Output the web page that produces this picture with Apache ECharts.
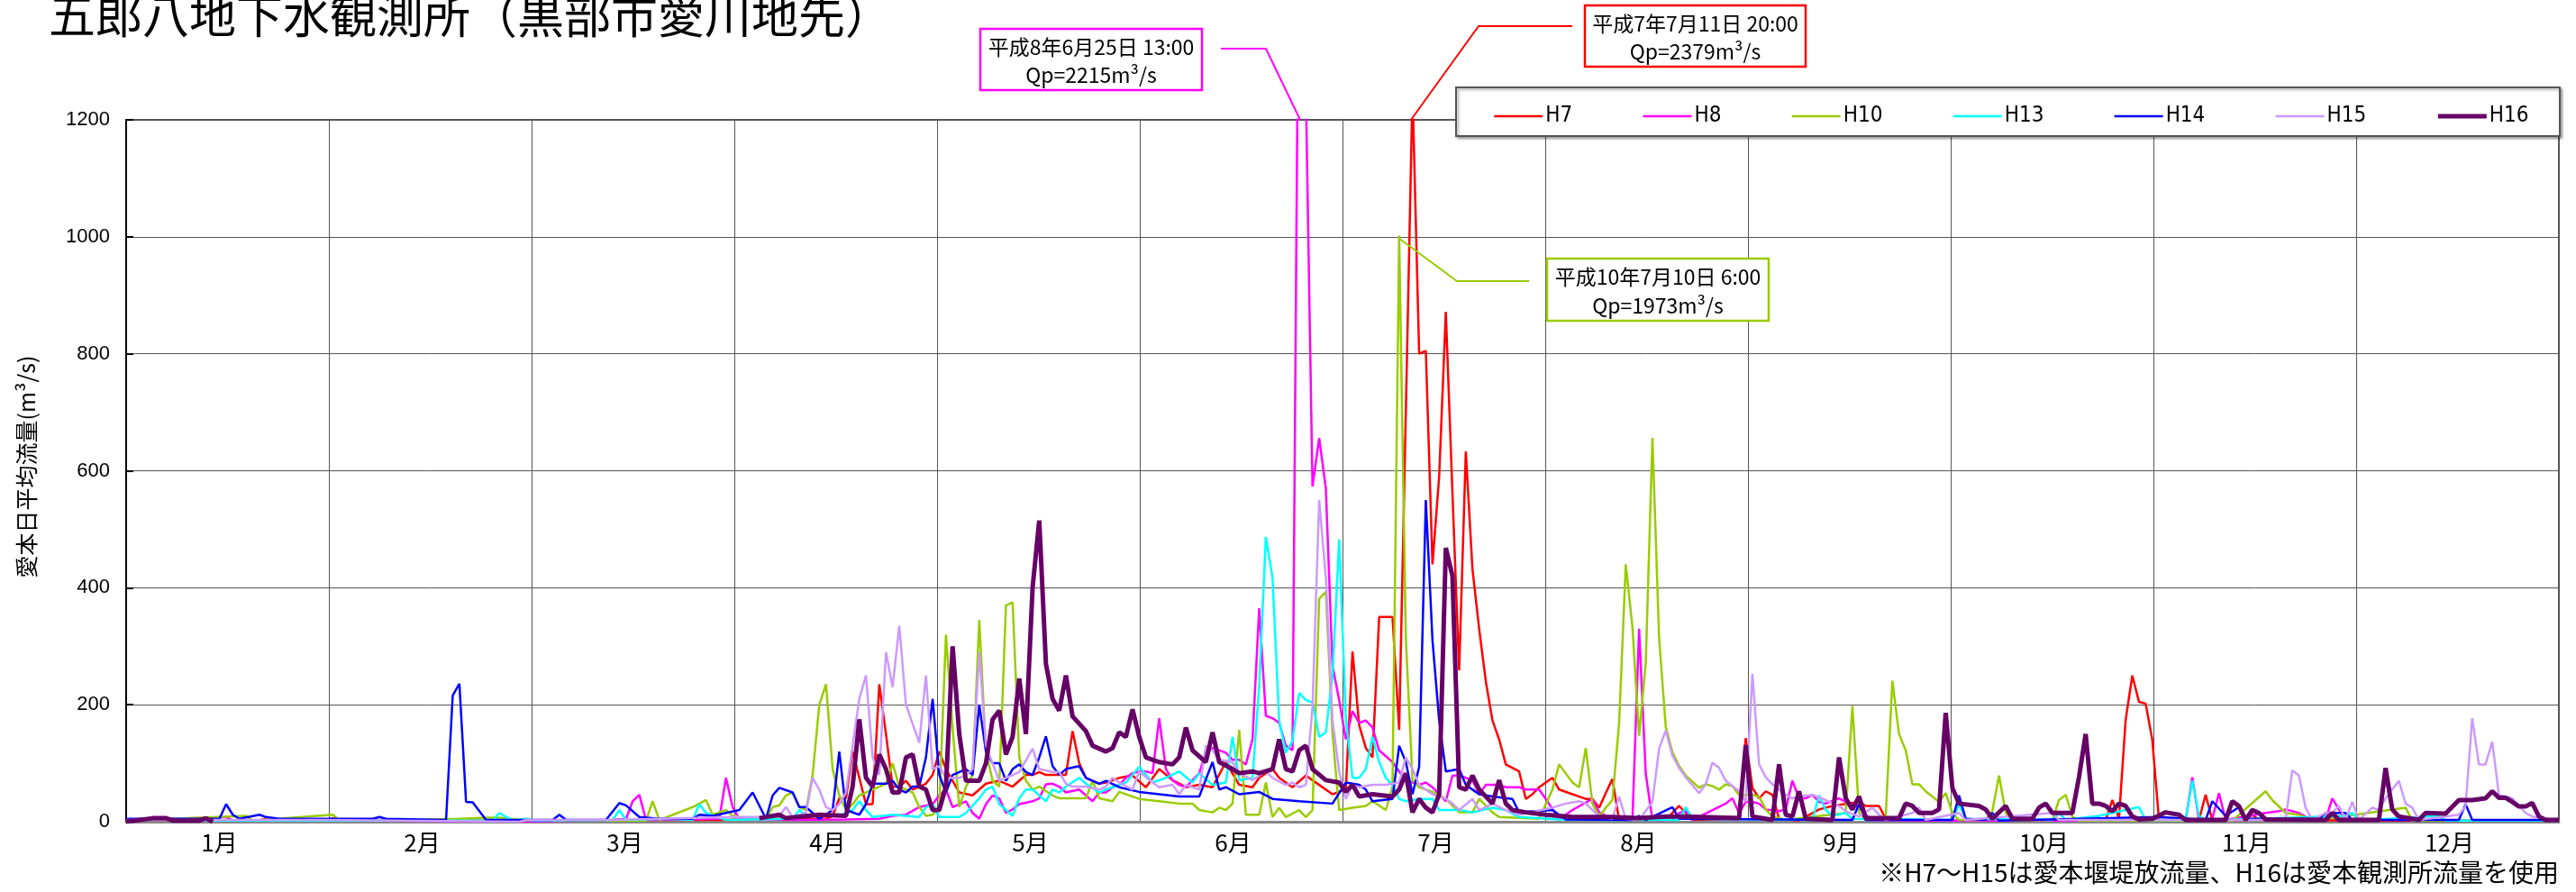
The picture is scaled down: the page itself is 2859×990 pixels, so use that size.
<!DOCTYPE html>
<html>
<head>
<meta charset="utf-8">
<script src="https://cdn.jsdelivr.net/npm/echarts@6/dist/echarts.min.js"></script>
<style>
html,body{margin:0;padding:0;background:#fff;}
#chart{width:2859px;height:990px;}
</style>
</head>
<body>
<div id="chart"></div>
<script>
const months = ['1月','2月','3月','4月','5月','6月','7月','8月','9月','10月','11月','12月'];
const yTicks = [0, 200, 400, 600, 800, 1000, 1200];
const seriesNames = ['H7','H8','H10','H13','H14','H15','H16'];

// [day of year, daily mean flow m3/s]
const H7 = [[0,3],[10,3],[20,2],[21,6],[22,2],[30,3],[31,6],[32,3],[45,2],[60,2],[75,3],[90,3],[96,5],[105,5],[106,10],[107,40],[108,40],[109,120],[110,75],[111,30],[112,30],[113,235],[114,150],[115,60],[116,60],[117,70],[118,55],[119,60],[120,65],[121,80],[122,120],[123,90],[124,70],[125,50],[127,45],[128,55],[129,65],[131,70],[133,60],[134,70],[135,80],[136,80],[137,85],[138,80],[140,80],[141,80],[142,155],[143,100],[144,75],[145,70],[146,65],[147,67],[149,75],[151,79],[153,59],[155,90],[157,71],[159,59],[161,63],[163,59],[165,102],[167,63],[169,59],[170,75],[172,90],[173,75],[175,59],[177,79],[179,63],[181,47],[183,55],[184,291],[185,165],[186,126],[187,110],[188,350],[190,350],[191,157],[192,700],[193,1250],[194,800],[195,805],[196,440],[197,590],[198,872],[199,560],[200,259],[201,633],[202,432],[203,330],[204,240],[205,173],[206,141],[207,98],[209,86],[210,39],[211,47],[212,59],[214,75],[215,55],[217,47],[219,39],[220,39],[221,24],[222,49],[223,73],[224,3],[231,3],[233,27],[234,15],[235,3],[242,5],[243,143],[244,58],[245,40],[246,52],[247,46],[248,5],[251,2],[254,21],[256,27],[260,34],[261,27],[263,27],[264,5],[270,2],[290,2],[297,3],[298,37],[299,6],[300,174],[301,250],[302,205],[303,202],[304,140],[305,3],[311,3],[312,46],[313,3],[318,3],[319,12],[320,3],[340,2],[365,2]];

const H8 = [[0,2],[15,8],[16,2],[40,2],[59,0],[73,3],[75,5],[76,35],[77,46],[78,3],[89,5],[90,75],[91,25],[92,5],[100,3],[108,4],[113,5],[115,10],[117,12],[119,25],[121,30],[122,45],[123,55],[124,25],[125,30],[126,35],[127,15],[128,5],[129,30],[130,45],[131,40],[132,15],[133,21],[134,30],[136,35],[137,40],[138,64],[139,65],[140,60],[141,50],[143,55],[144,45],[145,35],[146,50],[147,50],[148,59],[149,63],[150,75],[151,83],[152,86],[153,86],[154,83],[155,177],[156,90],[157,71],[158,63],[159,59],[161,83],[162,118],[163,126],[165,118],[166,106],[167,106],[168,98],[169,141],[170,365],[171,181],[172,177],[173,169],[174,130],[175,122],[176,1630],[177,1250],[178,573],[179,656],[180,570],[181,267],[182,208],[183,141],[184,189],[185,169],[186,173],[187,161],[188,122],[190,102],[191,86],[192,71],[194,63],[195,67],[196,59],[198,35],[199,79],[200,79],[202,71],[203,47],[204,63],[206,63],[207,59],[209,59],[210,55],[212,55],[213,39],[215,4],[217,20],[220,39],[221,16],[223,5],[226,3],[227,330],[228,82],[229,3],[232,3],[233,15],[234,18],[235,3],[240,31],[241,40],[242,15],[243,34],[244,34],[245,31],[246,21],[248,18],[249,21],[250,70],[251,40],[252,40],[253,46],[254,34],[255,31],[257,40],[258,34],[260,24],[261,12],[262,3],[270,2],[290,2],[309,2],[310,76],[311,3],[313,5],[314,49],[315,3],[321,15],[323,18],[324,21],[326,15],[328,2],[330,3],[331,40],[332,21],[333,3],[338,3],[339,76],[340,21],[341,3],[365,2]];

const H10 = [[0,2],[18,10],[19,2],[31,12],[32,2],[40,2],[50,5],[54,7],[56,7],[60,2],[73,2],[78,2],[79,35],[80,3],[85,25],[87,37],[88,12],[90,20],[91,10],[92,8],[96,5],[97,25],[98,28],[99,45],[100,50],[101,25],[102,20],[103,80],[104,200],[105,235],[106,90],[107,45],[108,20],[109,30],[110,45],[112,55],[113,60],[114,65],[115,100],[116,60],[118,50],[119,25],[120,10],[121,12],[122,25],[123,320],[124,160],[125,25],[126,60],[127,80],[128,345],[129,120],[130,70],[131,60],[132,370],[133,375],[134,110],[135,70],[136,55],[137,60],[139,45],[140,40],[142,40],[144,40],[145,70],[146,40],[148,35],[149,51],[152,39],[155,35],[158,31],[160,31],[161,20],[163,16],[164,24],[165,20],[166,31],[167,157],[168,12],[170,12],[171,67],[172,8],[173,24],[174,8],[176,20],[177,8],[178,20],[179,381],[180,393],[181,150],[182,20],[184,24],[186,27],[187,35],[189,20],[190,60],[191,1002],[192,314],[193,71],[194,59],[196,51],[198,39],[200,16],[202,16],[203,39],[205,16],[206,8],[212,5],[214,55],[215,98],[217,67],[218,59],[219,126],[220,31],[221,8],[222,24],[223,37],[224,168],[225,440],[226,333],[227,147],[228,272],[229,656],[230,315],[231,162],[232,119],[233,95],[234,79],[236,58],[237,64],[238,61],[239,55],[240,64],[241,61],[242,46],[244,46],[245,43],[246,21],[247,9],[249,3],[258,15],[259,198],[260,15],[261,3],[264,9],[265,241],[266,150],[267,122],[268,64],[269,64],[270,52],[272,34],[273,49],[274,15],[275,3],[279,3],[280,18],[281,79],[282,15],[283,2],[289,3],[290,37],[291,46],[292,9],[293,2],[316,2],[321,52],[322,37],[324,15],[326,12],[328,2],[342,24],[343,2],[365,2]];

const H13 = [[0,2],[9,5],[10,2],[20,2],[30,2],[40,2],[50,2],[55,2],[56,15],[57,8],[58,2],[60,5],[61,2],[73,3],[74,20],[75,3],[81,5],[85,3],[86,30],[87,15],[90,3],[100,5],[101,20],[102,10],[107,10],[109,20],[110,35],[111,20],[112,8],[115,12],[119,8],[120,25],[121,30],[122,8],[125,8],[126,15],[128,40],[129,55],[130,60],[131,30],[133,10],[134,40],[135,55],[136,55],[138,35],[139,55],[140,50],[141,60],[143,75],[144,65],[146,50],[147,55],[150,67],[152,94],[154,67],[156,75],[158,86],[160,67],[161,83],[163,63],[165,67],[166,145],[167,71],[169,75],[170,232],[171,487],[172,417],[173,173],[174,118],[175,138],[176,220],[177,208],[178,204],[179,145],[180,153],[181,250],[182,483],[183,177],[184,75],[185,75],[186,90],[187,145],[188,102],[189,75],[190,63],[191,39],[192,35],[194,39],[196,39],[197,20],[200,20],[202,16],[205,24],[207,20],[209,8],[215,4],[223,3],[233,3],[234,25],[235,5],[253,3],[254,45],[255,20],[256,10],[258,15],[259,5],[274,3],[275,30],[276,5],[289,3],[290,15],[291,3],[296,10],[302,25],[303,3],[309,3],[310,70],[311,10],[312,2],[333,10],[334,15],[335,2],[347,10],[348,2],[365,2]];

const H14 = [[0,5],[14,5],[15,30],[16,12],[17,5],[20,12],[21,8],[23,5],[37,5],[38,8],[39,5],[48,3],[49,216],[50,236],[51,34],[52,33],[54,3],[64,3],[65,12],[66,3],[72,3],[74,32],[75,28],[77,8],[80,5],[85,5],[86,12],[88,10],[92,20],[94,50],[96,5],[97,45],[98,58],[100,50],[101,25],[102,25],[104,5],[106,20],[107,120],[108,20],[110,12],[111,30],[112,65],[114,65],[115,70],[116,55],[117,50],[118,60],[119,60],[120,110],[121,210],[122,80],[123,50],[124,80],[126,90],[127,80],[128,200],[129,120],[130,100],[131,100],[132,70],[133,90],[134,98],[135,85],[136,80],[137,110],[138,146],[139,95],[140,80],[141,90],[143,95],[144,75],[146,65],[147,70],[149,59],[152,51],[155,47],[158,43],[161,43],[163,102],[164,55],[165,59],[167,47],[170,51],[172,39],[176,35],[181,31],[183,67],[185,63],[186,55],[187,35],[190,39],[191,130],[192,102],[193,47],[194,94],[195,550],[196,310],[197,173],[198,86],[200,90],[201,63],[203,47],[205,43],[208,39],[209,16],[214,20],[216,4],[226,3],[227,10],[228,3],[232,25],[233,5],[259,3],[260,30],[261,3],[274,3],[275,45],[276,5],[279,3],[280,15],[281,2],[305,8],[312,3],[313,35],[315,10],[317,25],[318,5],[329,5],[330,15],[333,15],[334,3],[350,3],[351,30],[352,3],[365,3]];

const H15 = [[0,3],[30,3],[59,0],[60,3],[73,3],[91,8],[95,8],[98,10],[99,25],[100,8],[102,15],[103,75],[104,55],[105,25],[106,20],[107,30],[108,50],[110,210],[111,250],[112,110],[113,80],[114,290],[115,230],[116,335],[117,200],[119,135],[120,250],[121,90],[122,95],[123,75],[125,75],[126,80],[127,90],[128,290],[129,130],[130,100],[131,70],[133,80],[134,85],[136,125],[137,90],[139,85],[140,85],[141,65],[142,60],[144,60],[146,55],[147,60],[148,75],[149,67],[151,55],[152,86],[154,67],[155,59],[157,63],[158,47],[159,63],[161,55],[162,130],[163,122],[164,106],[166,102],[167,83],[169,71],[170,79],[171,86],[172,75],[174,63],[175,67],[176,59],[177,63],[178,196],[179,550],[180,417],[181,173],[182,86],[183,39],[184,63],[185,59],[187,63],[189,63],[191,67],[192,110],[193,90],[194,63],[196,47],[198,39],[199,31],[200,20],[202,39],[203,20],[205,31],[207,20],[209,12],[214,24],[216,31],[218,35],[219,31],[221,9],[223,5],[224,43],[225,5],[227,3],[229,34],[230,125],[231,156],[232,113],[233,92],[234,76],[236,49],[237,64],[238,101],[239,92],[240,70],[242,52],[243,34],[244,253],[245,98],[246,76],[247,64],[249,46],[250,40],[251,43],[253,46],[255,37],[256,31],[257,27],[258,18],[260,9],[262,24],[263,12],[264,3],[268,15],[269,24],[270,3],[275,15],[276,3],[289,15],[290,3],[324,3],[325,88],[326,79],[327,24],[328,3],[330,15],[331,15],[332,27],[333,3],[334,34],[335,3],[337,24],[338,20],[339,40],[340,55],[341,70],[342,31],[343,24],[344,3],[350,12],[351,27],[352,177],[353,98],[354,98],[355,137],[356,46],[358,40],[360,15],[361,9],[365,2]];

const H16 = [[0,0],[4,6],[6,6],[7,2],[11,2],[12,6],[13,0],[50,'-'],[95,6],[98,12],[99,6],[104,12],[108,10],[109,60],[110,175],[111,75],[112,60],[113,115],[114,90],[115,50],[116,50],[117,110],[118,115],[119,60],[120,55],[121,20],[122,20],[123,60],[124,300],[125,150],[126,70],[128,70],[129,100],[130,175],[131,190],[132,115],[133,145],[134,245],[135,150],[136,400],[137,515],[138,270],[139,210],[140,190],[141,250],[142,180],[144,155],[145,130],[147,120],[148,126],[149,153],[150,145],[151,192],[152,145],[153,110],[155,102],[157,98],[158,110],[159,161],[160,122],[162,102],[163,153],[164,102],[166,90],[167,83],[169,86],[170,83],[172,90],[173,141],[174,90],[175,86],[176,122],[177,130],[178,90],[180,71],[182,67],[183,51],[184,63],[185,43],[187,47],[190,43],[191,55],[192,83],[193,16],[194,39],[195,24],[196,16],[197,47],[198,468],[199,420],[200,59],[201,55],[202,79],[203,55],[205,31],[206,71],[207,31],[208,20],[210,16],[213,12],[217,8],[223,8],[227,6],[231,9],[234,9],[242,6],[243,131],[244,9],[247,3],[248,98],[249,12],[250,9],[251,52],[252,5],[256,3],[257,110],[258,40],[259,21],[260,43],[261,6],[266,6],[267,31],[268,27],[269,15],[271,15],[272,21],[273,186],[274,58],[275,31],[278,27],[279,21],[280,5],[282,27],[283,5],[286,5],[287,24],[288,31],[289,15],[292,15],[293,76],[294,150],[295,31],[296,31],[297,27],[298,18],[299,31],[300,27],[301,9],[302,4],[304,5],[306,16],[308,12],[309,3],[315,3],[316,35],[317,27],[318,3],[319,20],[320,15],[321,4],[330,3],[331,15],[332,3],[338,3],[339,92],[340,21],[341,9],[344,3],[345,15],[348,14],[350,37],[352,37],[354,40],[355,52],[356,41],[357,41],[358,34],[359,26],[360,26],[361,32],[362,9],[363,3],[365,3]];

const seriesData = [H7, H8, H10, H13, H14, H15, H16];
const seriesColors = ['#FF0000','#FF00FF','#99CC00','#00FFFF','#0000FF','#CC99FF','#660066'];
const seriesWidths = [2.5, 2.5, 2.5, 2.5, 2.5, 2.5, 5];

const CJK = "'Noto Sans CJK JP', 'Noto Sans', sans-serif";
const NARROW = "'Liberation Sans Narrow', 'DejaVu Sans Condensed', 'Liberation Sans', sans-serif";

const chart = echarts.init(document.getElementById('chart'), null, {renderer: 'canvas'});

const series = seriesNames.map((name, i) => ({
  name: name,
  type: 'line',
  xAxisIndex: 1,
  data: seriesData[i],
  symbol: 'none',
  showSymbol: false,
  connectNulls: false,
  clip: true,
  lineStyle: {color: seriesColors[i], width: seriesWidths[i]},
  itemStyle: {color: seriesColors[i]},
  emphasis: {disabled: true},
  animation: false,
  z: 2 + i
}));

function box(x, y, w, h, color, l1, l2) {
  const cx = x + w / 2;
  return [
    {type: 'rect', shape: {x: x, y: y, width: w, height: h}, style: {fill: '#fff', stroke: color, lineWidth: 2.5}, z: 50},
    {type: 'text', x: cx, y: y + h * 0.3, style: {text: l1, font: "23px " + CJK, fill: '#000', textAlign: 'center', textVerticalAlign: 'middle'}, z: 51},
    {type: 'text', x: cx, y: y + h * 0.76, style: {text: l2, font: "23px " + CJK, fill: '#000', textAlign: 'center', textVerticalAlign: 'middle'}, z: 51}
  ];
}

const graphics = [
  {type: 'text', x: 54, y: 17, style: {text: '五郎八地下水観測所（黒部市愛川地先）', font: "52px " + CJK, fill: '#000', textAlign: 'left', textVerticalAlign: 'middle'}, z: 60},
  {type: 'text', x: 29, y: 518, rotation: Math.PI / 2, style: {text: '愛本日平均流量(m³/s)', font: "25px " + CJK, fill: '#000', textAlign: 'center', textVerticalAlign: 'middle'}, z: 60},
  {type: 'text', x: 2840, y: 968, style: {text: '※H7～H15は愛本堰堤放流量、H16は愛本観測所流量を使用', font: "28px " + CJK, fill: '#000', textAlign: 'right', textVerticalAlign: 'middle'}, z: 60},
  {type: 'rect', shape: {x: 1616, y: 97, width: 1225, height: 54}, style: {fill: '#fff', stroke: '#555', lineWidth: 2, shadowBlur: 3, shadowOffsetX: 2, shadowOffsetY: 2, shadowColor: 'rgba(0,0,0,0.35)'}, z: 40},
  {type: 'polyline', shape: {points: [[1355, 54], [1405, 54], [1443, 133]]}, style: {stroke: '#FF00FF', lineWidth: 2, fill: null}, z: 45},
  {type: 'polyline', shape: {points: [[1745, 29], [1641, 29], [1566, 133]]}, style: {stroke: '#FF0000', lineWidth: 2, fill: null}, z: 45},
  {type: 'polyline', shape: {points: [[1697, 312], [1617, 312], [1552, 264]]}, style: {stroke: '#99CC00', lineWidth: 2, fill: null}, z: 45}
].concat(
  box(1088, 32, 246, 68, '#FF00FF', '平成8年6月25日 13:00', 'Qp=2215m³/s'),
  box(1759, 6, 245, 68, '#FF0000', '平成7年7月11日 20:00', 'Qp=2379m³/s'),
  box(1717, 287, 246, 69, '#99CC00', '平成10年7月10日 6:00', 'Qp=1973m³/s')
);

chart.setOption({
  animation: false,
  backgroundColor: '#fff',
  grid: {left: 140, right: 19, top: 133, bottom: 78, show: true, borderColor: '#555', borderWidth: 2, backgroundColor: 'transparent'},
  legend: {
    data: seriesNames,
    left: 1652, top: 112,
    itemWidth: 54, itemHeight: 16, itemGap: 77,
    itemStyle: {opacity: 0, borderWidth: 0},
    lineStyle: {width: 'inherit'},
    textStyle: {fontSize: 24, fontFamily: NARROW, color: '#000', padding: [0, 0, 0, -2]},
    z: 45
  },
  xAxis: [
    {
      type: 'category', data: months, boundaryGap: true, position: 'bottom',
      axisLine: {show: true, lineStyle: {color: '#888', width: 3}},
      axisTick: {show: false},
      axisLabel: {fontSize: 26, fontFamily: CJK, color: '#000', margin: 10, padding: [0, 18, 0, 0], interval: 0},
      splitLine: {show: true, interval: 0, lineStyle: {color: '#555', width: 1}}
    },
    {
      type: 'value', min: 0, max: 365, show: false, splitLine: {show: false}
    }
  ],
  yAxis: {
    type: 'value', min: yTicks[0], max: yTicks[yTicks.length - 1], interval: 200,
    axisLine: {show: true, lineStyle: {color: '#000', width: 2}},
    axisTick: {show: true, inside: true, length: 8, lineStyle: {color: '#000', width: 2}},
    axisLabel: {fontSize: 22, fontFamily: "'Liberation Sans', sans-serif", color: '#000', margin: 18, formatter: v => String(v)},
    splitLine: {show: true, lineStyle: {color: '#555', width: 1}}
  },
  series: series,
  graphic: graphics
});
</script>
</body>
</html>
